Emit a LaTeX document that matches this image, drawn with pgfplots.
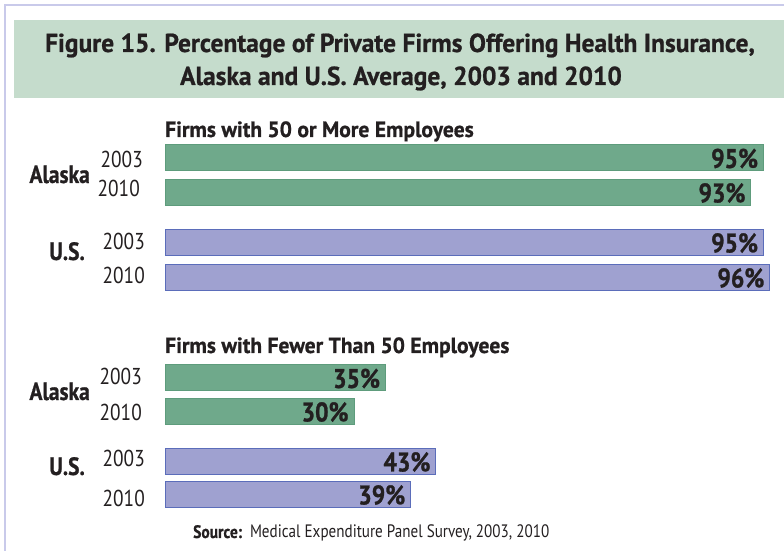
\documentclass[border=0pt]{standalone}
\usepackage{pgfplots}
\pgfplotsset{compat=1.18}
\usepackage{fontspec}
\setmainfont{PT Sans}[FakeStretch=0.84]
\newfontfamily\wide{PT Sans}[FakeStretch=0.98, BoldFeatures={FakeBold=0.8}]
\newfontfamily\lbl{PT Sans}[FakeStretch=0.86, BoldFeatures={FakeBold=0.8}]
\newfontfamily\pct{PT Sans}[FakeStretch=0.88, BoldFeatures={FakeBold=1}]
\definecolor{grn}{HTML}{6FA98B}
\definecolor{grnd}{HTML}{5E9C7C}
\definecolor{pur}{HTML}{9FA1D0}
\definecolor{purd}{HTML}{5B6DBA}
\definecolor{band}{HTML}{C5DCCC}
\definecolor{frame}{HTML}{C9CAEA}
\definecolor{txt}{HTML}{231F20}
\begin{document}
\begin{tikzpicture}
\path[use as bounding box] (0,0) rectangle (784pt,551pt);
\begin{scope}[x=1pt,y=-1pt,shift={(0,551pt)}]
\fill[band] (14,20) rectangle (784,98);
\draw[frame,line width=2.5pt] (5,551) -- (5,5) -- (784,5);
\end{scope}
\begin{axis}[
  at={(0,0)}, anchor=south west,
  scale only axis, width=784pt, height=551pt,
  xmin=-26.19, xmax=98.25, ymin=0, ymax=551, y dir=reverse,
  axis lines=none, clip=false,
  xbar, bar width=26,
  point meta=x,
  nodes near coords={\pgfmathprintnumber[assume math mode=true]{\pgfplotspointmeta}\%},
  every node near coord/.append style={anchor=east, inner sep=0pt, xshift=-5pt, yshift=-1pt, text=txt,
     font=\pct\fontsize{27}{27}\selectfont\bfseries},
]
\addplot[bar shift=0pt, fill=grn, draw=grnd, line width=1pt] coordinates {(95,157.5) (93,192) (35,377.5) (30,411)};
\addplot[bar shift=0pt, fill=pur, draw=purd, line width=1pt] coordinates {(95,242) (96,277) (43,461) (39,494)};
\end{axis}
\begin{scope}[x=1pt,y=-1pt,shift={(0,551pt)}, every node/.style={inner sep=0pt, text=txt}]
\node[anchor=base, font=\wide\fontsize{26}{35}\selectfont\bfseries] at (400,52) {Figure 15. Percentage of Private Firms Offering Health Insurance,};
\node[anchor=base, font=\wide\fontsize{26}{35}\selectfont\bfseries] at (401,85) {Alaska and U.S. Average, 2003 and 2010};
\node[anchor=base west, font=\wide\fontsize{22}{22}\selectfont\bfseries] at (165,137) {Firms with 50 or More Employees};
\node[anchor=base west, font=\wide\fontsize{22}{22}\selectfont\bfseries] at (165,353) {Firms with Fewer Than 50 Employees};
\node[anchor=base east, font=\lbl\fontsize{25}{25}\selectfont\bfseries] at (90,183) {Alaska};
\node[anchor=base east, font=\lbl\fontsize{25}{25}\selectfont\bfseries] at (85,260) {U.S.};
\node[anchor=base east, font=\lbl\fontsize{25}{25}\selectfont\bfseries] at (90,400) {Alaska};
\node[anchor=base east, font=\lbl\fontsize{25}{25}\selectfont\bfseries] at (85,475) {U.S.};
\node[anchor=base east, font=\fontsize{23}{23}\selectfont] at (143,168) {2003};
\node[anchor=base east, font=\fontsize{23}{23}\selectfont] at (140,197) {2010};
\node[anchor=base east, font=\fontsize{23}{23}\selectfont] at (145,250) {2003};
\node[anchor=base east, font=\fontsize{23}{23}\selectfont] at (145,284) {2010};
\node[anchor=base east, font=\fontsize{23}{23}\selectfont] at (142,385) {2003};
\node[anchor=base east, font=\fontsize{23}{23}\selectfont] at (142,421) {2010};
\node[anchor=base east, font=\fontsize{23}{23}\selectfont] at (145,467) {2003};
\node[anchor=base east, font=\fontsize{23}{23}\selectfont] at (145,507) {2010};
\node[anchor=base west, font=\fontsize{18}{18}\selectfont] at (193,538) {{\lbl\bfseries Source:}\ \ Medical Expenditure Panel Survey, 2003, 2010};
\end{scope}
\end{tikzpicture}
\end{document}
